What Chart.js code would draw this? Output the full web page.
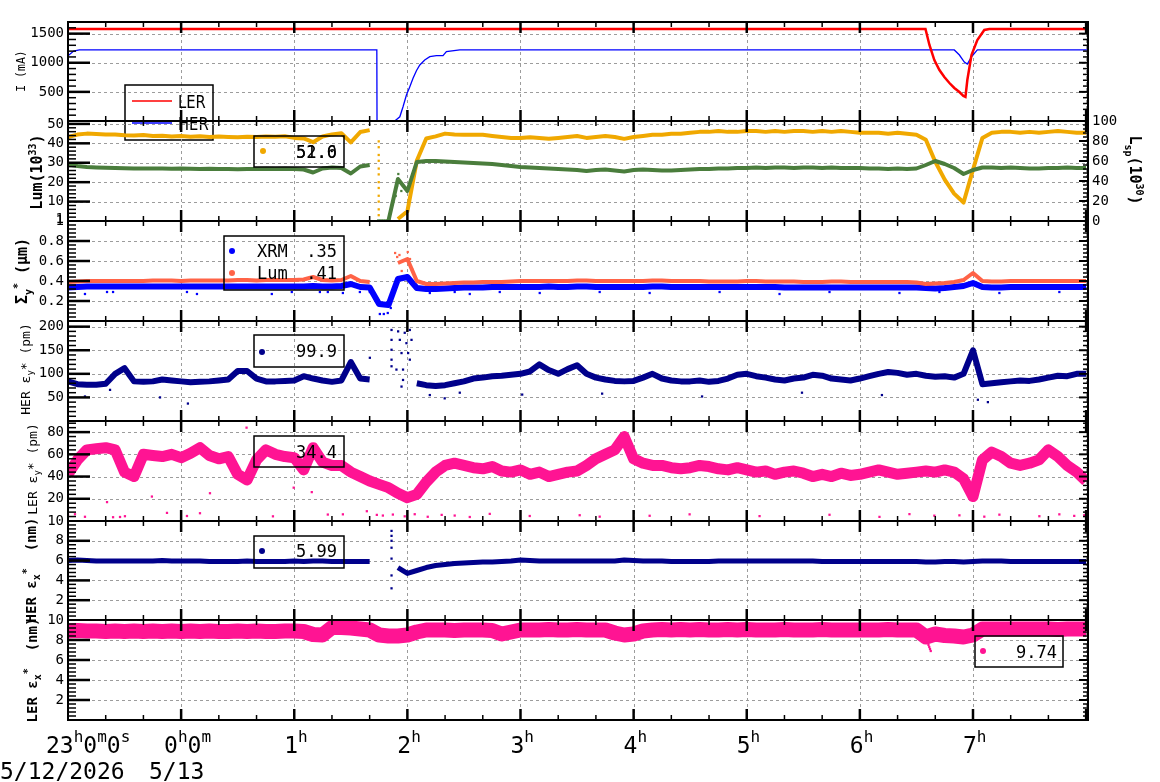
<!DOCTYPE html>
<html>
<head>
<meta charset="utf-8">
<title>Beam monitor 5/12-5/13</title>
<script src="https://cdn.jsdelivr.net/npm/chart.js@4.4.1/dist/chart.umd.min.js"></script>
<style>
  body { margin: 0; background: #fff; }
  #wrap { position: relative; width: 1160px; height: 782px; overflow: hidden; }
  #wrap canvas { position: absolute; left: 0; top: 0; }
</style>
</head>
<body>
<div id="wrap">
  <canvas id="cur" width="1160" height="782"></canvas>
  <canvas id="lum" width="1160" height="782"></canvas>
  <canvas id="sig" width="1160" height="782"></canvas>
  <canvas id="hey" width="1160" height="782"></canvas>
  <canvas id="ley" width="1160" height="782"></canvas>
  <canvas id="hex" width="1160" height="782"></canvas>
  <canvas id="lex" width="1160" height="782"></canvas>
</div>
<script>
// time axis: minutes after 23:00 on 5/12, one sample every STEP minutes
const STEP = 5;
const X_MAX = 541;

// ---- beam currents (mA), break points of the traces ----
const lerCurT = [0, 454.8, 456.9, 459.5, 462.2, 464.8, 467.5, 470.1, 472.8, 474.9, 476, 477, 479.2, 482.3, 486, 488.7, 541];
const lerCurV = [1580, 1580, 1305, 1047, 876, 756, 652, 567, 498, 430, 415, 704, 1133, 1391, 1563, 1580, 1580];
const herCurT = [0, 3, 6, 163.8, 163.9, 173.3, 176, 177.7, 179.5, 181.3, 183, 184.8, 186.6, 189.2, 191.9, 195.4, 198.9, 200.7, 207.8, 470.1, 472.8, 475.4, 477, 479.2, 482.3, 541];
const herCurV = [1120, 1200, 1220, 1220, 0, 0, 73, 245, 446, 589, 733, 864, 962, 1047, 1104, 1121, 1121, 1190, 1220, 1220, 1133, 1013, 979, 1100, 1220, 1220];

// ---- luminosity (left, 10^33) and Lsp (right, 10^30) ----
const lum = [
  43.2, 44.5, 45.0, 44.8, 44.5, 44.6, 44.2, 44.0, 44.3, 43.8, 43.9, 43.5,
  43.8, 43.4, 43.6, 43.2, 43.5, 43.3, 43.1, 43.4, 43.2, 43.5, 43.4, 43.6,
  42.8, 42.5, 40.6, 43.5, 44.6, 45.2, 40.5, 45.8, 46.8, null, null, 1.0,
  5.0, 31.0, 42.5, 43.6, 45.0, 44.6, 44.4, 44.4, 44.4, 43.8, 43.3, 42.8,
  42.8, 43.1, 42.8, 42.3, 42.8, 43.3, 43.8, 42.8, 43.3, 43.8, 43.3, 42.3,
  43.3, 43.8, 44.4, 44.4, 44.9, 44.9, 45.4, 45.9, 45.9, 46.4, 45.9, 45.9,
  46.4, 46.4, 45.9, 46.4, 45.9, 46.4, 46.4, 45.9, 46.4, 45.9, 46.4, 45.9,
  45.4, 45.4, 45.4, 44.9, 45.4, 44.9, 44.4, 41.8, 30.5, 21.3, 14.1, 9.5,
  26.4, 42.8, 45.4, 45.9, 45.9, 45.4, 45.9, 45.4, 45.9, 46.4, 45.9, 45.4,
  45.4
];
const lsp = [
  56.5, 55.0, 54.0, 53.5, 53.2, 53.0, 52.8, 52.6, 52.6, 52.4, 52.4, 52.2,
  52.4, 52.2, 52.0, 52.2, 52.0, 52.0, 51.8, 52.0, 52.0, 52.2, 52.0, 52.2,
  52.0, 51.5, 48.5, 52.5, 53.4, 53.0, 47.5, 54.5, 56.0, null, 0.5, 42.0,
  30.0, 59.0, 60.0, 60.0, 59.5, 59.0, 58.5, 58.0, 57.5, 57.0, 56.0, 55.0,
  54.0, 53.5, 53.0, 52.5, 52.0, 51.5, 51.0, 50.0, 51.0, 51.5, 50.5, 49.5,
  51.0, 51.5, 51.0, 50.5, 50.5, 51.0, 51.5, 52.0, 52.0, 52.5, 52.5, 53.0,
  53.0, 53.5, 53.0, 53.5, 53.5, 53.0, 53.5, 53.5, 53.0, 53.5, 53.0, 53.0,
  53.0, 52.5, 52.5, 52.0, 52.5, 52.0, 52.5, 56.0, 60.0, 57.0, 53.0, 47.0,
  51.0, 53.5, 53.5, 53.0, 53.5, 53.0, 52.5, 52.5, 53.0, 53.0, 53.5, 53.0,
  53.0
];
const lumDropT = [164.8, 164.8, 164.8, 164.8, 164.8, 164.8, 164.8, 164.8, 164.8, 164.8, 164.8, 164.8];
const lumDropV = [41, 38, 34, 31, 27, 24, 20, 17, 13, 10, 6, 3];
const lspJumpT = [164.5, 165.5, 166.5, 167.5, 168.5, 169.5, 170.5, 173.8, 174.5, 175.2, 176.0, 176.8];
const lspJumpV = [0.5, 0.5, 0.5, 0.5, 0.5, 0.5, 0.5, 25, 35, 47, 40, 30];

// ---- vertical beam size Sigma_y* (um) ----
const sigLum = [
  .39, .395, .40, .40, .40, .40, .40, .40, .40, .405, .405, .405,
  .40, .405, .405, .405, .405, .405, .41, .41, .405, .41, .41, .41,
  .41, .415, .44, .41, .405, .41, .45, .40, .39, null, null, .58,
  .62, .40, .37, .37, .375, .38, .385, .385, .39, .39, .39, .395,
  .40, .40, .40, .40, .40, .40, .405, .405, .40, .40, .40, .40,
  .40, .40, .405, .405, .40, .40, .40, .40, .395, .395, .395, .395,
  .40, .40, .395, .395, .395, .395, .39, .39, .39, .395, .395, .39,
  .39, .39, .39, .39, .39, .39, .385, .37, .375, .38, .39, .41,
  .48, .40, .395, .395, .40, .40, .40, .40, .40, .40, .40, .40,
  .40
];
const sigXrm = [
  .335, .34, .345, .345, .345, .345, .345, .345, .345, .345, .345, .345,
  .345, .345, .345, .345, .345, .345, .345, .345, .345, .345, .345, .345,
  .345, .345, .35, .345, .345, .35, .37, .34, .335, .17, .16, .42,
  .44, .33, .32, .32, .325, .33, .335, .335, .335, .34, .34, .34,
  .34, .34, .34, .345, .34, .34, .345, .345, .34, .34, .34, .34,
  .34, .34, .345, .345, .34, .34, .34, .34, .34, .34, .34, .34,
  .34, .34, .34, .34, .335, .335, .335, .335, .335, .335, .335, .335,
  .335, .335, .335, .335, .335, .335, .335, .33, .325, .33, .34, .35,
  .38, .34, .335, .335, .34, .34, .34, .34, .34, .34, .34, .34,
  .34
];
const xrmLowT = [9.0, 20.7, 23.9, 63.1, 68.4, 108.1, 118.7, 133.6, 137.8, 145.8, 154.8, 160.1, 165.4, 167.5, 169.6, 171.2, 191.9, 205.1, 213.1, 229.0, 250.2, 282.0, 308.5, 345.6, 377.4, 403.9, 441.0, 462.2, 494.0, 525.8];
const xrmLowV = [.27, .29, .29, .29, .27, .27, .29, .29, .29, .28, .29, .29, .07, .07, .08, .13, .28, .29, .27, .29, .28, .29, .28, .29, .27, .29, .28, .29, .28, .29];
const lumSigHiT = [173.5, 174.6, 175.8, 177.0, 180.2, 181.4, 182.5];
const lumSigHiV = [.68, .64, .66, .50, .69, .62, .52];

// ---- HER vertical emittance (pm) ----
const herEy = [
  84, 78, 77, 77, 79, 100, 112, 84, 83, 84, 88, 86,
  84, 82, 83, 84, 86, 88, 106, 106, 90, 84, 84, 85,
  86, 95, 90, 86, 83, 86, 125, 90, 88, null, null, null,
  null, 80, 76, 74, 76, 80, 84, 90, 92, 95, 96, 98,
  100, 105, 120, 108, 100, 110, 118, 100, 92, 88, 85, 84,
  85, 92, 100, 90, 86, 84, 84, 86, 83, 85, 90, 98,
  100, 95, 92, 88, 86, 90, 92, 98, 96, 90, 88, 86,
  90, 95, 100, 104, 102, 98, 100, 96, 94, 95, 92, 100,
  150, 78, 80, 82, 84, 86, 85, 88, 92, 96, 95, 100,
  100
];
const herEyDotT = [9.0, 22.3, 48.8, 63.6, 160.1, 171.6, 171.6, 171.6, 171.6, 171.6, 174.2, 175.1, 176.0, 176.9, 176.9, 177.7, 177.7, 178.6, 179.5, 180.4, 181.3, 181.3, 182.2, 191.9, 199.8, 207.8, 240.9, 283.3, 336.3, 389.3, 431.7, 482.6, 487.9];
const herEyDotV = [52, 66, 50, 37, 134, 193, 172, 151, 130, 116, 109, 190, 172, 144, 73, 109, 87, 187, 165, 144, 193, 130, 172, 55, 48, 60, 56, 58, 52, 60, 55, 45, 40];

// ---- LER vertical emittance (pm) ----
const lerEy = [
  42, 55, 64, 65, 66, 64, 44, 40, 60, 59, 58, 60,
  57, 61, 66, 59, 56, 58, 42, 37, 55, 64, 60, 58,
  57, 46, 66, 53, 50, 50, 44, 40, 36, 33, 30, 25,
  21, 24, 35, 44, 50, 52, 50, 48, 47, 49, 45, 44,
  46, 42, 44, 40, 42, 44, 45, 50, 56, 60, 64, 76,
  56, 52, 50, 50, 48, 47, 48, 50, 49, 47, 46, 48,
  46, 44, 45, 42, 44, 45, 43, 40, 42, 40, 43, 41,
  42, 44, 46, 44, 42, 43, 44, 45, 44, 46, 44, 38,
  22, 55, 62, 58, 52, 50, 52, 55, 64, 58, 50, 44,
  36
];
const lerEyDotT = [0, 3.7, 9.0, 23.9, 27.6, 30.2, 52.5, 63.1, 70.0, 108.7, 137.8, 145.8, 158.5, 163.8, 167.0, 172.3, 178.6, 183.9, 190.8, 198.2, 205.1, 213.1, 223.7, 244.9, 271.4, 282.0, 308.5, 329.7, 366.8, 403.9, 430.4, 446.3, 459.5, 472.8, 486.0, 494.0, 515.2, 525.8, 533.7, 539.0, 20.7, 44.5, 75.3, 119.7, 129.3, 94.7];
const lerEyDotV = [5.8, 6.1, 3.8, 3.4, 3.6, 4.3, 7.3, 4.5, 7.0, 4.2, 5.8, 6.0, 8.8, 5.5, 4.9, 5.8, 4.2, 6.1, 3.8, 5.5, 4.9, 3.6, 6.4, 4.5, 5.2, 3.9, 4.7, 6.0, 4.4, 5.6, 3.7, 6.2, 4.8, 5.1, 3.9, 5.7, 4.3, 6.0, 4.6, 5.2, 17, 22, 25, 30, 26, 84];

// ---- HER / LER horizontal emittance (nm) ----
const herEx = [
  6.0, 6.05, 6.0, 5.95, 5.95, 5.95, 5.95, 5.95, 5.95, 5.95, 6.0, 5.95,
  5.95, 5.95, 5.95, 5.9, 5.9, 5.9, 5.9, 5.95, 5.9, 5.9, 5.9, 5.9,
  5.95, 5.9, 5.95, 5.95, 5.9, 5.9, 5.9, 5.9, 5.9, null, null, 5.3,
  4.7, 5.0, 5.3, 5.5, 5.6, 5.7, 5.75, 5.8, 5.85, 5.85, 5.9, 5.95,
  6.05, 6.0, 5.95, 5.95, 5.95, 5.95, 5.95, 5.95, 5.95, 5.95, 5.95, 6.05,
  6.0, 5.95, 5.95, 5.95, 5.9, 5.9, 5.9, 5.9, 5.9, 5.95, 5.95, 5.95,
  5.95, 5.95, 5.95, 5.95, 5.95, 5.95, 5.95, 5.95, 5.9, 5.9, 5.9, 5.9,
  5.9, 5.9, 5.9, 5.9, 5.9, 5.9, 5.9, 5.85, 5.85, 5.9, 5.9, 5.85,
  5.9, 5.95, 5.95, 5.95, 5.9, 5.9, 5.9, 5.9, 5.9, 5.9, 5.9, 5.9,
  5.9
];
const herExDotT = [171.6, 171.6, 171.6, 171.6, 171.6, 171.6, 171.6];
const herExDotV = [9.0, 8.5, 8.0, 7.3, 6.2, 4.5, 3.2];
const lerEx = [
  8.9, 8.95, 8.9, 8.9, 8.85, 8.9, 8.85, 8.9, 8.85, 8.9, 8.85, 8.9,
  8.85, 8.9, 8.85, 8.9, 8.85, 8.85, 8.9, 8.85, 8.9, 8.85, 8.85, 8.9,
  8.9, 8.85, 8.55, 8.5, 9.25, 9.25, 9.2, 9.1, 9.0, 8.5, 8.4, 8.4,
  8.5, 8.8, 9.0, 9.0, 9.0, 8.95, 9.0, 9.0, 9.0, 8.95, 8.6, 8.8,
  9.0, 9.0, 9.0, 9.05, 9.0, 9.0, 9.05, 9.0, 9.0, 9.0, 8.7, 8.5,
  8.6, 8.9, 9.0, 9.05, 9.0, 9.05, 9.0, 9.05, 9.0, 9.0, 9.05, 9.0,
  9.05, 9.0, 9.0, 9.0, 9.05, 9.0, 9.0, 9.0, 9.05, 9.0, 9.0, 9.0,
  9.0, 9.0, 9.0, 9.05, 9.0, 9.0, 9.0, 8.3, 8.6, 8.45, 8.4, 8.3,
  8.5, 9.1, 9.1, 9.1, 9.1, 9.1, 9.1, 9.1, 9.1, 9.05, 9.1, 9.1,
  9.1
];
const lerExDotT = [456.0, 456.4, 456.8, 457.2, 457.6];
const lerExDotV = [7.8, 7.5, 7.3, 7.1, 6.9];

// tick labels
const curTicks = [500, 1000, 1500];
const lumTicks = [1, 10, 20, 30, 40, 50];
const lspTicks = [0, 20, 40, 60, 80, 100];
const sigTicks = [0.2, 0.4, 0.6, 0.8, 1];
const herEyTicks = [50, 100, 150, 200];
const lerEyTicks = [20, 40, 60, 80];
const exTicks = [2, 4, 6, 8, 10];
const hourLabels = [['23', 'h', '0', 'm', '0', 's'], ['0', 'h', '0', 'm'], ['1', 'h'], ['2', 'h'], ['3', 'h'], ['4', 'h'], ['5', 'h'], ['6', 'h'], ['7', 'h']];
const dateLabels = ['5/12/2026', '5/13'];

// legend readouts
const lumLegend = ['52.0', '51.6'];
const sigLegend = [['XRM', '.35'], ['Lum', '.41']];
const herEyLegend = '99.9';
const lerEyLegend = '34.4';
const herExLegend = '5.99';
const lerExLegend = '9.74';

const MONO = '"DejaVu Sans Mono", monospace';
const SANS = '"DejaVu Sans", sans-serif';
const C = {
  ler: '#ff0000', her: '#0000ff', lum: '#f0a800', lsp: '#4a7d3c',
  sigLum: '#ff6347', xrm: '#0000ff', navy: '#00008b', pink: '#ff1493'
};

const series = vals => vals.map((v, i) => ({ x: i * STEP, y: v }));
const pairs = (ts, vs) => ts.map((t, i) => ({ x: t, y: vs[i] }));

function band(vals, color, w, axis) {
  return { data: series(vals), borderColor: color, backgroundColor: color, borderWidth: w,
    pointRadius: 0, tension: 0, borderJoinStyle: 'round', yAxisID: axis || 'y', clip: 0 };
}
function trace(ts, vs, color, w) {
  return { data: pairs(ts, vs), borderColor: color, borderWidth: w, pointRadius: 0, tension: 0, clip: 0 };
}
function dots(ts, vs, color, axis) {
  return { data: pairs(ts, vs), showLine: false, pointRadius: 1.6, pointStyle: 'rect',
    backgroundColor: color, borderWidth: 0, yAxisID: axis || 'y', clip: 0 };
}

// text with sub/superscripts; parts = [[text, ''|'sub'|'sup'], ...]
function rich(ctx, parts, x, y, size, opt) {
  opt = opt || {};
  const fam = opt.family || MONO, wt = opt.bold ? 'bold ' : '';
  const small = Math.round(size * (opt.small || 0.68));
  ctx.save();
  ctx.translate(x, y);
  if (opt.rot) ctx.rotate(opt.rot);
  ctx.fillStyle = '#000';
  ctx.textAlign = 'left';
  ctx.textBaseline = 'alphabetic';
  let w = 0;
  parts.forEach(([t, k]) => { ctx.font = wt + (k ? small : size) + 'px ' + fam; w += ctx.measureText(t).width; });
  let cx = opt.left ? 0 : -w / 2;
  const base = opt.left ? 0 : size * 0.36;
  parts.forEach(([t, k]) => {
    ctx.font = wt + (k ? small : size) + 'px ' + fam;
    const dy = k === 'sup' ? -size * (opt.supUp || 0.42) : k === 'sub' ? size * 0.28 : 0;
    ctx.fillText(t, cx, base + dy);
    cx += ctx.measureText(t).width;
  });
  ctx.restore();
}

function legendBox(ctx, x0, y0, x1, y1) {
  ctx.save();
  ctx.strokeStyle = '#000';
  ctx.lineWidth = 1.5;
  ctx.strokeRect(x0, y0, x1 - x0, y1 - y0);
  ctx.restore();
}
function legendDot(ctx, x, y, color) {
  ctx.save();
  ctx.fillStyle = color;
  ctx.beginPath();
  ctx.arc(x, y, 3, 0, Math.PI * 2);
  ctx.fill();
  ctx.restore();
}
function legendText(ctx, s, x, y, align) {
  ctx.save();
  ctx.fillStyle = '#000';
  ctx.font = '17px ' + MONO;
  ctx.textAlign = align || 'left';
  ctx.fillText(s, x, y);
  ctx.restore();
}

// frame, inward ticks and dashed grid of one panel
function framePlugin(f) {
  const minors = (max, step, major) => {
    const out = [];
    const n = Math.round(max / step);
    for (let k = 1; k < n; k++) {
      const v = +(k * step).toFixed(4);
      if (!major.some(m => Math.abs(m - v) < step / 10)) out.push(v);
    }
    return out;
  };
  return {
    id: 'frame',
    beforeDatasetsDraw(chart) {
      const { ctx, chartArea: a, scales } = chart;
      const y = scales.y, x = scales.x;
      ctx.save();
      ctx.strokeStyle = '#9c9c9c';
      ctx.lineWidth = 1;
      ctx.setLineDash([3, 3]);
      ctx.beginPath();
      f.major.forEach(v => {
        const py = Math.round(y.getPixelForValue(v)) + 0.5;
        ctx.moveTo(a.left, py); ctx.lineTo(a.right, py);
      });
      for (let m = 60; m < X_MAX; m += 60) {
        const px = Math.round(x.getPixelForValue(m)) + 0.5;
        ctx.moveTo(px, a.top); ctx.lineTo(px, a.bottom);
      }
      ctx.stroke();
      ctx.restore();
    },
    afterDatasetsDraw(chart) {
      const { ctx, chartArea: a, scales } = chart;
      const y = scales.y, x = scales.x;
      ctx.save();
      ctx.strokeStyle = '#000';
      const hline = (x0, x1, py, w) => { ctx.lineWidth = w; ctx.beginPath(); ctx.moveTo(x0, py); ctx.lineTo(x1, py); ctx.stroke(); };
      const vline = (px, y0, y1, w) => { ctx.lineWidth = w; ctx.beginPath(); ctx.moveTo(px, y0); ctx.lineTo(px, y1); ctx.stroke(); };
      // left ticks
      f.major.forEach(v => hline(a.left, a.left + 22, y.getPixelForValue(v), 2.5));
      minors(y.max, f.minor, f.major).forEach(v => hline(a.left, a.left + 8, y.getPixelForValue(v), 1.5));
      // right ticks
      const r = f.right;
      const ry = r ? scales[r.id] : y;
      const rMajor = r ? r.major : f.major, rMinor = r ? r.minor : f.minor;
      rMajor.forEach(v => hline(a.right - 9, a.right, ry.getPixelForValue(v), 2));
      minors(ry.max, rMinor, rMajor).forEach(v => hline(a.right - 5, a.right, ry.getPixelForValue(v), 1.5));
      // time ticks, top and bottom
      for (let m = 20; m < X_MAX; m += 20) {
        const px = x.getPixelForValue(m);
        const big = m % 60 === 0;
        const len = big ? 11 : 5, w = big ? 2.5 : 1.5;
        vline(px, a.top, a.top + len, w);
        vline(px, a.bottom - len, a.bottom, w);
      }
      ctx.lineWidth = 2;
      ctx.strokeRect(a.left, a.top, a.right - a.left, a.bottom - a.top);
      ctx.restore();
    }
  };
}

function yAxis(min, max, ticks, extra) {
  return Object.assign({
    type: 'linear', position: 'left', min: min, max: max,
    afterFit: s => { s.width = 68; },
    afterBuildTicks: s => { s.ticks = ticks.map(v => ({ value: v })); },
    grid: { display: false, drawTicks: false },
    border: { display: false },
    ticks: { autoSkip: false, padding: 4, color: '#000', font: { family: MONO, size: 14 }, callback: v => String(v) }
  }, extra || {});
}

function makePanel(id, top, bottom, scalesY, datasets, frameCfg, deco, rightAxis) {
  const scales = Object.assign({ x: { type: 'linear', min: 0, max: X_MAX, display: false } }, scalesY);
  return new Chart(document.getElementById(id), {
    type: 'line',
    data: { datasets: datasets },
    options: {
      responsive: false, animation: false, devicePixelRatio: 1,
      layout: { padding: { left: 0, right: rightAxis ? 0 : 72, top: top, bottom: 782 - bottom } },
      plugins: { legend: { display: false }, tooltip: { enabled: false } },
      scales: scales
    },
    plugins: [framePlugin(frameCfg), { id: 'deco', afterDraw: c => deco(c.ctx, c) }]
  });
}

const UP = -Math.PI / 2;

// panel 1: currents
makePanel('cur', 22, 121,
  { y: yAxis(0, 1700, curTicks) },
  [trace(lerCurT, lerCurV, C.ler, 2.5), trace(herCurT, herCurV, C.her, 1.3)],
  { major: curTicks, minor: 100 },
  ctx => {
    rich(ctx, [['I (mA)', '']], 21, 71, 11.5, { rot: UP });
    legendBox(ctx, 125, 85, 213, 140);
    ctx.save();
    ctx.lineWidth = 1.5;
    ctx.strokeStyle = C.ler; ctx.beginPath(); ctx.moveTo(132, 101); ctx.lineTo(172, 101); ctx.stroke();
    ctx.strokeStyle = C.her; ctx.beginPath(); ctx.moveTo(132, 123); ctx.lineTo(172, 123); ctx.stroke();
    ctx.fillStyle = '#000';
    ctx.font = '18px ' + SANS;
    ctx.translate(178, 0);
    ctx.scale(0.82, 1);
    ctx.fillText('LER', 0, 108);
    ctx.fillText('HER', 0, 130);
    ctx.restore();
  });

// panel 2: luminosity
makePanel('lum', 121, 221,
  {
    y: yAxis(0, 51.5, lumTicks),
    y2: yAxis(0, 100, lspTicks, { position: 'right', afterFit: s => { s.width = 72; } })
  },
  [band(lsp, C.lsp, 4, 'y2'), dots(lspJumpT, lspJumpV, C.lsp, 'y2'),
   band(lum, C.lum, 4), dots(lumDropT, lumDropV, C.lum)],
  { major: [10, 20, 30, 40, 50], minor: 2, right: { id: 'y2', major: [20, 40, 60, 80], minor: 4 } },
  ctx => {
    rich(ctx, [['Lum(10', ''], ['33', 'sup'], [')', '']], 37, 172, 15, { bold: true, rot: UP });
    rich(ctx, [['L', ''], ['sp', 'sub'], ['(10', ''], ['30', 'sup'], [')', '']], 1135, 170, 15, { bold: true, rot: Math.PI / 2 });
    legendBox(ctx, 254, 136, 344, 167);
    legendDot(ctx, 263, 151, C.lum);
    legendText(ctx, lumLegend[0], 337, 158, 'right');
    legendText(ctx, lumLegend[1], 337, 158, 'right');
  }, true);

// panel 3: Sigma_y*
makePanel('sig', 221, 321,
  { y: yAxis(0, 1, sigTicks) },
  [band(sigLum, C.sigLum, 4), dots(lumSigHiT, lumSigHiV, C.sigLum), band(sigXrm, C.xrm, 6), dots(xrmLowT, xrmLowV, C.xrm)],
  { major: [0.2, 0.4, 0.6, 0.8], minor: 0.04 },
  ctx => {
    rich(ctx, [['\u03a3', ''], ['y', 'sub'], ['*', 'sup'], [' (\u03bcm)', '']], 22, 271, 15, { bold: true, rot: UP });
    legendBox(ctx, 224, 236, 344, 290);
    legendDot(ctx, 232, 251, C.xrm);
    legendDot(ctx, 232, 273, C.sigLum);
    legendText(ctx, sigLegend[0][0], 257, 257);
    legendText(ctx, sigLegend[0][1], 337, 257, 'right');
    legendText(ctx, sigLegend[1][0], 257, 279);
    legendText(ctx, sigLegend[1][1], 337, 279, 'right');
  });

// panel 4: HER eps_y*
makePanel('hey', 321, 421,
  { y: yAxis(0, 212, herEyTicks) },
  [band(herEy, C.navy, 6), dots(herEyDotT, herEyDotV, C.navy)],
  { major: herEyTicks, minor: 10 },
  ctx => {
    rich(ctx, [['HER \u03b5', ''], ['y', 'sub'], ['*', ''], [' (pm)', '']], 25, 369, 13, { rot: UP });
    legendBox(ctx, 254, 335, 344, 367);
    legendDot(ctx, 262, 352, C.navy);
    legendText(ctx, herEyLegend, 337, 357, 'right');
  });

// panel 5: LER eps_y*
makePanel('ley', 421, 521,
  { y: yAxis(0, 90, lerEyTicks) },
  [band(lerEy, C.pink, 11), dots(lerEyDotT, lerEyDotV, C.pink)],
  { major: lerEyTicks, minor: 4 },
  ctx => {
    rich(ctx, [['LER \u03b5', ''], ['y', 'sub'], ['*', ''], [' (pm)', '']], 32, 469, 13, { rot: UP });
    legendBox(ctx, 254, 436, 344, 467);
    legendDot(ctx, 262, 452, C.pink);
    legendText(ctx, lerEyLegend, 337, 458, 'right');
  });

// panel 6: HER eps_x*
makePanel('hex', 521, 620,
  { y: yAxis(0, 10, exTicks) },
  [band(herEx, C.navy, 5), dots(herExDotT, herExDotV, C.navy)],
  { major: [2, 4, 6, 8], minor: 0.4 },
  ctx => {
    rich(ctx, [['HER \u03b5', ''], ['x', 'sub'], ['*', 'sup'], ['  (nm)', '']], 31, 570, 14, { bold: true, rot: UP });
    legendBox(ctx, 254, 536, 344, 568);
    legendDot(ctx, 262, 551, C.navy);
    legendText(ctx, herExLegend, 337, 557, 'right');
  });

// panel 7: LER eps_x* and the time axis
makePanel('lex', 620, 720,
  { y: yAxis(0, 10, exTicks) },
  [band(lerEx, C.pink, 15), dots(lerExDotT, lerExDotV, C.pink)],
  { major: [2, 4, 6, 8], minor: 0.4 },
  (ctx, chart) => {
    rich(ctx, [['LER \u03b5', ''], ['x', 'sub'], ['*', 'sup'], ['  (nm)', '']], 32, 670, 14, { bold: true, rot: UP });
    legendBox(ctx, 975, 636, 1063, 667);
    legendDot(ctx, 983, 651, C.pink);
    legendText(ctx, lerExLegend, 1057, 658, 'right');
    const xs = chart.scales.x;
    hourLabels.forEach((parts, k) => {
      const px = xs.getPixelForValue(k * 60);
      const start = k === 0 ? px - 22 : k === 1 ? px - 17 : px - 10;
      rich(ctx, parts.map((t, j) => [t, j % 2 ? 'sup' : '']), start, 753, 23, { left: true, small: 0.68, supUp: 0.5 });
    });
    ctx.save();
    ctx.fillStyle = '#000';
    ctx.font = '23px ' + MONO;
    ctx.fillText(dateLabels[0], 0, 779);
    ctx.fillText(dateLabels[1], 149, 779);
    ctx.restore();
  });
</script>
</body>
</html>
